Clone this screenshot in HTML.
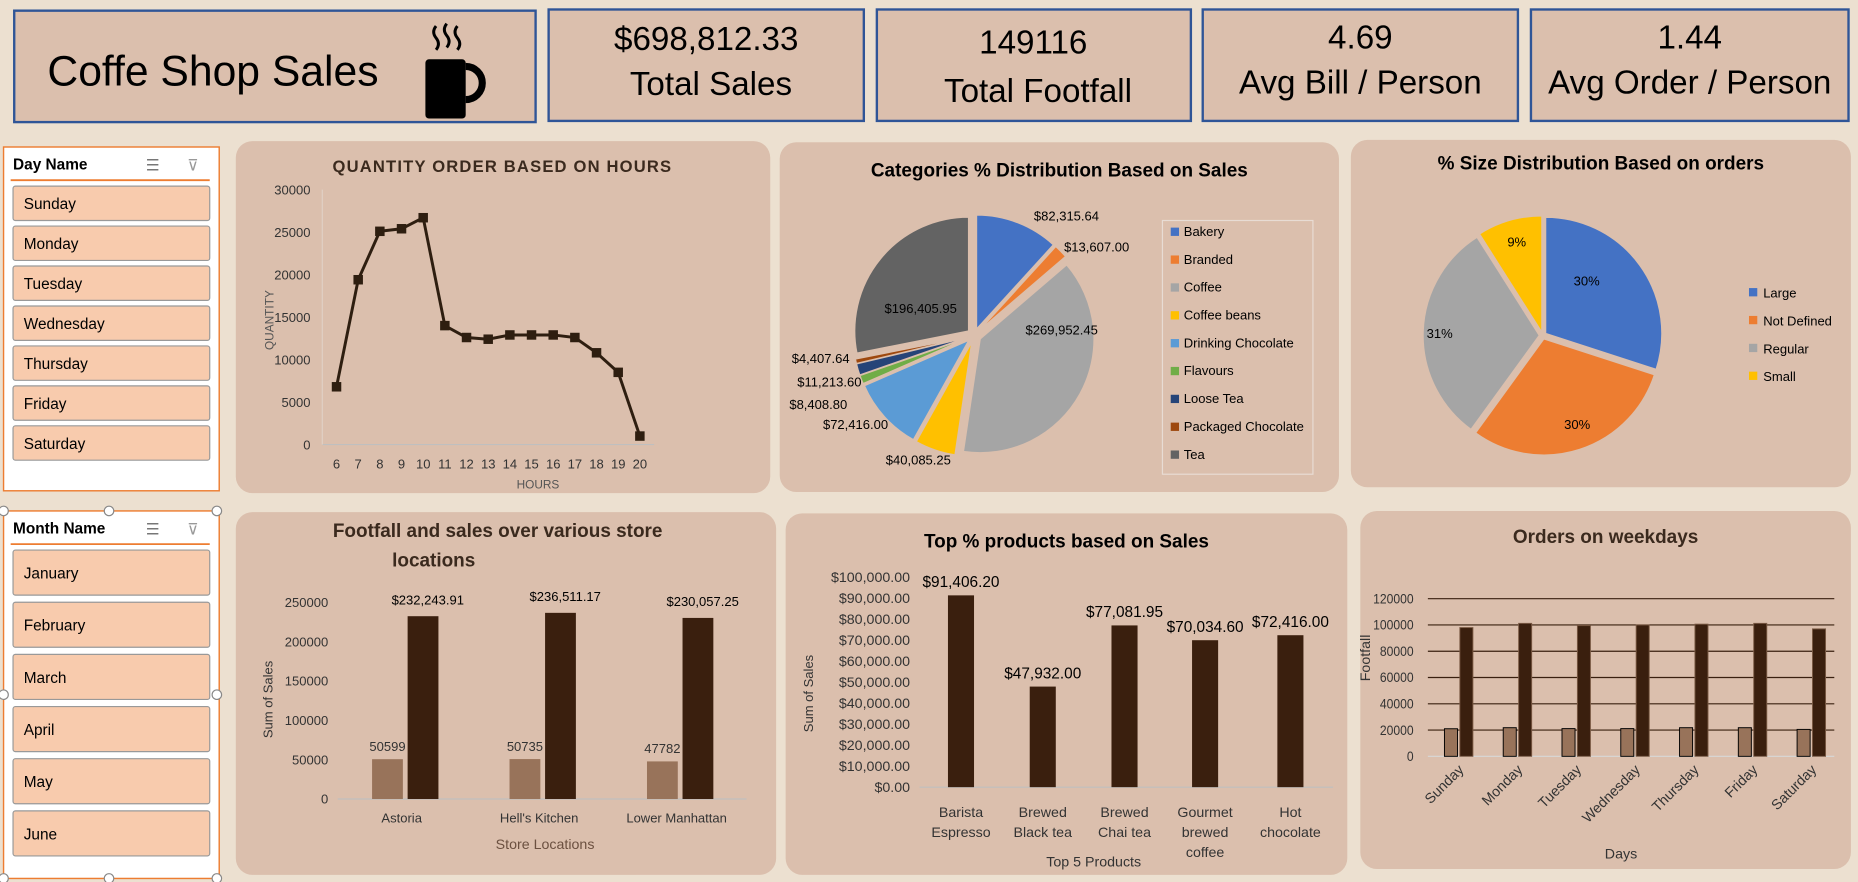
<!DOCTYPE html>
<html><head><meta charset="utf-8"><style>
html,body{margin:0;padding:0;background:#ece0d0;overflow:hidden}
svg{display:block;font-family:"Liberation Sans",sans-serif}
</style></head><body>
<svg id="s" width="1858" height="882" viewBox="0 0 1568 744" preserveAspectRatio="none" xmlns="http://www.w3.org/2000/svg">
<rect x="0" y="0" width="1568" height="744" fill="#ece0d0"/>
<g>
<rect x="12" y="9" width="440" height="94" fill="#dbbfad" stroke="#2f5597" stroke-width="2"/>
<text x="40" y="72" font-size="36" fill="#000">Coffe Shop Sales</text>
<g>
<rect x="359" y="50" width="34" height="50" rx="3" fill="#000"/>
<path d="M393 56 a14 14 0 0 1 0 28" fill="none" stroke="#000" stroke-width="6"/>
<path d="M368 22 q-4 5 0 10 q4 5 0 10 M377 20 q-4 5 0 10 q4 5 0 10 M386 22 q-4 5 0 10 q4 5 0 10" fill="none" stroke="#000" stroke-width="2.5"/>
</g></g>
<g><rect x="463" y="8" width="266" height="94" fill="#dbbfad" stroke="#2f5597" stroke-width="2"/>
<text x="596" y="42" font-size="28" text-anchor="middle">$698,812.33</text><text x="600" y="80" font-size="28" text-anchor="middle">Total Sales</text></g>
<g><rect x="740" y="8" width="265" height="94" fill="#dbbfad" stroke="#2f5597" stroke-width="2"/>
<text x="872" y="45" font-size="28" text-anchor="middle">149116</text><text x="876" y="86" font-size="28" text-anchor="middle">Total Footfall</text></g>
<g><rect x="1015" y="8" width="266" height="94" fill="#dbbfad" stroke="#2f5597" stroke-width="2"/>
<text x="1148" y="41" font-size="28" text-anchor="middle">4.69</text><text x="1148" y="79" font-size="28" text-anchor="middle">Avg Bill / Person</text></g>
<g><rect x="1292" y="8" width="268" height="94" fill="#dbbfad" stroke="#2f5597" stroke-width="2"/>
<text x="1426" y="41" font-size="28" text-anchor="middle">1.44</text><text x="1426" y="79" font-size="28" text-anchor="middle">Avg Order / Person</text></g>
<g id="slicers"></g>
<rect x="199" y="119" width="451" height="297" rx="14" fill="#dbbfad"/>
<rect x="658" y="120" width="472" height="295" rx="14" fill="#dbbfad"/>
<rect x="1140" y="118" width="422" height="293" rx="14" fill="#dbbfad"/>
<rect x="199" y="432" width="456" height="306" rx="14" fill="#dbbfad"/>
<rect x="663" y="433" width="474" height="305" rx="14" fill="#dbbfad"/>
<rect x="1148" y="431" width="414" height="302" rx="14" fill="#dbbfad"/>
<g id="charts"></g>
</svg>
<script>
const hours=[6,7,8,9,10,11,12,13,14,15,16,17,18,19,20];
const hourQty=[6800,19400,25100,25400,26700,14000,12600,12400,12900,12900,12900,12600,10800,8500,1000];
const lineTicks=[0,5000,10000,15000,20000,25000,30000];
const catNames=["Bakery","Branded","Coffee","Coffee beans","Drinking Chocolate","Flavours","Loose Tea","Packaged Chocolate","Tea"];
const catSales=[82315.64,13607.00,269952.45,40085.25,72416.00,8408.80,11213.60,4407.64,196405.95];
const catLabels=["$82,315.64","$13,607.00","$269,952.45","$40,085.25","$72,416.00","$8,408.80","$11,213.60","$4,407.64","$196,405.95"];
const catColors=["#4472c4","#ed7d31","#a5a5a5","#ffc000","#5b9bd5","#70ad47","#264478","#9e480e","#636363"];
const sizeNames=["Large","Not Defined","Regular","Small"];
const sizePct=[30,30,31,9];
const sizeColors=["#4472c4","#ed7d31","#a5a5a5","#ffc000"];
const stores=["Astoria","Hell's Kitchen","Lower Manhattan"];
const storeFootfall=[50599,50735,47782];
const storeSales=[232243.91,236511.17,230057.25];
const storeSalesLabels=["$232,243.91","$236,511.17","$230,057.25"];
const storeTicks=[0,50000,100000,150000,200000,250000];
const products=[["Barista","Espresso"],["Brewed","Black tea"],["Brewed","Chai tea"],["Gourmet","brewed","coffee"],["Hot","chocolate"]];
const productSales=[91406.20,47932.00,77081.95,70034.60,72416.00];
const productLabels=["$91,406.20","$47,932.00","$77,081.95","$70,034.60","$72,416.00"];
const productTicks=[0,10000,20000,30000,40000,50000,60000,70000,80000,90000,100000];
const days=["Sunday","Monday","Tuesday","Wednesday","Thursday","Friday","Saturday"];
const dayFootfall=[21000,21800,21100,21100,21800,21800,20500];
const dayOrders=[98000,101200,99500,100000,100600,101200,97000];
const dayTicks=[0,20000,40000,60000,80000,100000,120000];
const monthNames=["January","February","March","April","May","June"];

const NS="http://www.w3.org/2000/svg";
const C=document.getElementById('charts');
function el(t,a,p){const e=document.createElementNS(NS,t);for(const k in a)e.setAttribute(k,a[k]);(p||C).appendChild(e);return e;}
function txt(x,y,s,size,attrs){const e=el('text',Object.assign({x:x,y:y,'font-size':size,fill:'#000'},attrs||{}));e.textContent=s;return e;}
function fmt(n){return '$'+n.toLocaleString('en-US',{minimumFractionDigits:2,maximumFractionDigits:2});}

const S=document.getElementById('slicers');
function slicer(x,y,w,h,title,items,itemH,gap,name){
  const g=el('g',{},S);
  
  
  el('rect',{x:x,y:y,width:w,height:h,fill:'#fff',stroke:'#ed7d31','stroke-width':1.2},g);
  const t=txt(x+8,y+19,title,13,{'font-weight':'bold'});g.appendChild(t);
  el('line',{x1:x+6,y1:y+28,x2:x+w-8,y2:y+28,stroke:'#ed7d31','stroke-width':1.5},g);
  const ic=txt(x+120,y+20,'☰',13,{fill:'#777'});g.appendChild(ic);
  const ic2=txt(x+155,y+20,'⊽',13,{fill:'#999'});g.appendChild(ic2);
  items.forEach((it,i)=>{
    const iy=y+33+i*(itemH+gap);
    const r=el('rect',{x:x+8,y:iy,width:w-16,height:itemH,fill:'#f8cbad',stroke:'#999','stroke-width':1,rx:2},g);
    
    
    const tt=txt(x+17,iy+itemH/2+5,it,13);g.appendChild(tt);
  });
}
slicer(3,124,182,290,'Day Name',days,29,4.7,'day-name-slicer');
slicer(3,431,182,310,'Month Name',monthNames,38,6,'month-name-slicer');
[[3,431],[92,431],[183,431],[3,586],[183,586],[3,741],[92,741],[183,741]].forEach(p=>{const c=el('circle',{cx:p[0],cy:p[1],r:4,fill:'#fff',stroke:'#888'},S);});

(function(){
 const x0=284,x1=540,y0=375,y1=160;
 const X=h=>x0+(h-hours[0])/(hours[hours.length-1]-hours[0])*(x1-x0);
 const Y=v=>y0-(v/30000)*(y0-y1);
 txt(424,145,'QUANTITY ORDER BASED ON HOURS',14,{'font-weight':'bold','text-anchor':'middle',fill:'#3b2a1e','letter-spacing':'1'});
 el('line',{x1:x0-12,y1:y0,x2:x1+12,y2:y0,stroke:'#bfbfbf'});
 el('line',{x1:x0-12,y1:y1,x2:x0-12,y2:y0,stroke:'#e0d0c4'});
 lineTicks.forEach(v=>txt(x0-22,Y(v)+4,String(v),11,{'text-anchor':'end',fill:'#333'}));
 hours.forEach(h=>txt(X(h),395,String(h),11,{'text-anchor':'middle',fill:'#333'}));
 txt(454,412,'HOURS',10,{'text-anchor':'middle',fill:'#555'});
 txt(231,270,'QUANTITY',10,{'text-anchor':'middle',fill:'#555',transform:'rotate(-90 231 270)'});
 const pts=hours.map((h,i)=>X(h)+','+Y(hourQty[i])).join(' ');
 const pl=el('polyline',{points:pts,fill:'none',stroke:'#2e1e10','stroke-width':2.5});
 
 hours.forEach((h,i)=>{const m=el('rect',{x:X(h)-4,y:Y(hourQty[i])-4,width:8,height:8,fill:'#2e1e10'});});
})();

function pie(cx,cy,r,vals,colors,explode,startName){
 const tot=vals.reduce((a,b)=>a+b,0);let a=-Math.PI/2;const mids=[];
 vals.forEach((v,i)=>{
  const da=v/tot*2*Math.PI,m=a+da/2;
  const ox=Math.cos(m)*explode,oy=Math.sin(m)*explode;
  const xa=cx+ox+r*Math.cos(a),ya=cy+oy+r*Math.sin(a),xb=cx+ox+r*Math.cos(a+da),yb=cy+oy+r*Math.sin(a+da);
  const p=el('path',{d:`M${cx+ox},${cy+oy} L${xa},${ya} A${r},${r} 0 ${da>Math.PI?1:0} 1 ${xb},${yb} Z`,fill:colors[i],stroke:'#dbbfad','stroke-width':1});
  
  mids.push(m);a+=da;
 });return mids;
}
(function(){
 txt(894,149,'Categories % Distribution Based on Sales',16,{'font-weight':'bold','text-anchor':'middle'});
 const cx=822,cy=283,r=96;
 pie(cx,cy,r,catSales,catColors,6,'category');
 const lp=[[900,186,'middle'],[898,212,'start'],[896,282,'middle'],[775,392,'middle'],[722,362,'middle'],[715,345,'end'],[727,326,'end'],[717,306,'end'],[777,264,'middle']];
 catLabels.forEach((l,i)=>txt(lp[i][0],lp[i][1],l,11,{'text-anchor':lp[i][2]}));
 el('rect',{x:981,y:186,width:127,height:214,fill:'#dbbfad',stroke:'#e8dcd4'});
 catNames.forEach((n,i)=>{el('rect',{x:988,y:192+i*23.5,width:7,height:7,fill:catColors[i]});txt(999,199+i*23.5,n,11);});
})();
(function(){
 txt(1351,143,'% Size Distribution Based on orders',16,{'font-weight':'bold','text-anchor':'middle'});
 pie(1302,283,98,sizePct,sizeColors,3,'size');
 const lp=[[1339,241],[1331,362],[1215,285],[1280,208]];
 sizePct.forEach((v,i)=>txt(lp[i][0],lp[i][1],v+'%',11,{'text-anchor':'middle'}));
 sizeNames.forEach((n,i)=>{el('rect',{x:1476,y:243+i*23.5,width:7,height:7,fill:sizeColors[i]});txt(1488,251+i*23.5,n,11);});
})();
(function(){
 txt(420,453,'Footfall and sales over various  store',16,{'font-weight':'bold','text-anchor':'middle',fill:'#3b2a1e'});
 txt(366,478,'locations',16,{'font-weight':'bold','text-anchor':'middle',fill:'#3b2a1e'});
 const y0=674,y1=508,Y=v=>y0-v/250000*(y0-y1);
 const cx=[342,458,574];
 el('line',{x1:285,y1:y0,x2:630,y2:y0,stroke:'#bfbfbf'});
 storeTicks.forEach(v=>txt(277,Y(v)+4,String(v),11,{'text-anchor':'end',fill:'#333'}));
 txt(230,590,'Sum of Sales',11,{'text-anchor':'middle',fill:'#333',transform:'rotate(-90 230 590)'});
 txt(460,716,'Store Locations',12,{'text-anchor':'middle',fill:'#6b5040'});
 stores.forEach((s,i)=>{
  const b1=el('rect',{x:cx[i]-28,y:Y(storeFootfall[i]),width:26,height:y0-Y(storeFootfall[i]),fill:'#98735a'});
  
  const b2=el('rect',{x:cx[i]+2,y:Y(storeSales[i]),width:26,height:y0-Y(storeSales[i]),fill:'#3a1f0e'});
  
  txt(cx[i]-15,Y(storeFootfall[i])-7,String(storeFootfall[i]),11,{'text-anchor':'middle',fill:'#333'});
  txt(cx[i]+19,Y(storeSales[i])-10,storeSalesLabels[i],11,{'text-anchor':'middle'});
  txt(cx[i]-3,694,s,11,{'text-anchor':'middle',fill:'#333'});
 });
})();
(function(){
 txt(900,462,'Top  %  products based on  Sales',16,{'font-weight':'bold','text-anchor':'middle'});
 const y0=664,y1=487,Y=v=>y0-v/100000*(y0-y1);
 const cx=[811,880,949,1017,1089];
 el('line',{x1:776,y1:y0,x2:1125,y2:y0,stroke:'#bfbfbf'});
 productTicks.forEach(v=>txt(768,Y(v)+4,fmt(v),12,{'text-anchor':'end',fill:'#333'}));
 txt(686,585,'Sum of Sales',11,{'text-anchor':'middle',fill:'#333',transform:'rotate(-90 686 585)'});
 txt(923,731,'Top 5 Products',12,{'text-anchor':'middle',fill:'#333'});
 products.forEach((p,i)=>{
  const b=el('rect',{x:cx[i]-11,y:Y(productSales[i]),width:22,height:y0-Y(productSales[i]),fill:'#3a1f0e'});
  
  txt(cx[i],Y(productSales[i])-7,productLabels[i],13,{'text-anchor':'middle'});
  p.forEach((w,j)=>txt(cx[i],689+j*17,w,12,{'text-anchor':'middle',fill:'#333'}));
 });
})();
(function(){
 txt(1355,458,'Orders on weekdays',16,{'font-weight':'bold','text-anchor':'middle',fill:'#3b2a1e'});
 const y0=638,y1=505,Y=v=>y0-v/120000*(y0-y1);
 dayTicks.forEach(v=>{const s=String(v);txt(1193,Y(v)+4,s,12,{'text-anchor':'end',fill:'#333',textLength:s.length*5.7,lengthAdjust:'spacingAndGlyphs'});el('line',{x1:1205,y1:Y(v),x2:1548,y2:Y(v),stroke:v?'#3a2010':'#d8d8d8'});});
 txt(1156,555,'Footfall',12,{'text-anchor':'middle',fill:'#333',transform:'rotate(-90 1156 555)'});
 txt(1368,724,'Days',12,{'text-anchor':'middle',fill:'#333'});
 days.forEach((d,i)=>{
  const cx=1230+i*49.6;
  const b1=el('rect',{x:cx-11,y:Y(dayFootfall[i]),width:11,height:y0-Y(dayFootfall[i]),fill:'#98735a',stroke:'#000','stroke-width':0.8});
  
  const b2=el('rect',{x:cx+2,y:Y(dayOrders[i]),width:11,height:y0-Y(dayOrders[i]),fill:'#3a1f0e',stroke:'#7a5a44','stroke-width':0.8});
  
  txt(cx+6,650,d,12,{'text-anchor':'end',fill:'#333',transform:`rotate(-45 ${cx+6} 650)`});
 });
})();
</script>
</body></html>
